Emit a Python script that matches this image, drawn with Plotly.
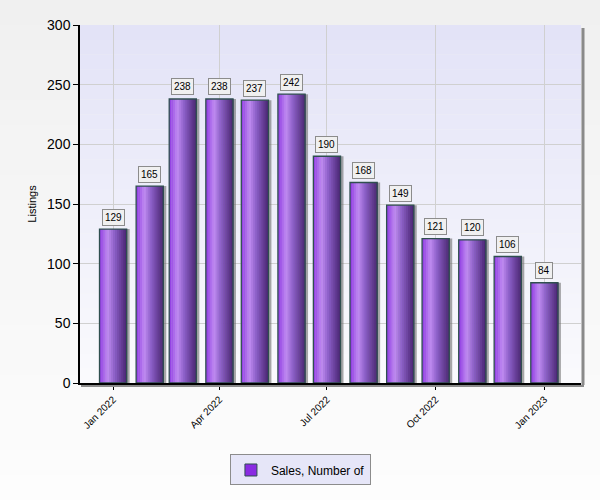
import plotly.graph_objects as go

months = ["2022-01-01", "2022-02-01", "2022-03-01", "2022-04-01", "2022-05-01",
          "2022-06-01", "2022-07-01", "2022-08-01", "2022-09-01", "2022-10-01",
          "2022-11-01", "2022-12-01", "2023-01-01"]
sales = [129, 165, 238, 238, 237, 242, 190, 168, 149, 121, 120, 106, 84]

tick_dates = ["2022-01-01", "2022-04-01", "2022-07-01", "2022-10-01", "2023-01-01"]
tick_text = ["Jan 2022", "Apr 2022", "Jul 2022", "Oct 2022", "Jan 2023"]

DAY = 86400000
bar_w = 23 * DAY


def mix(c1, c2, t):
	return "rgb(%d,%d,%d)" % tuple(round(a + (b - a) * t) for a, b in zip(c1, c2))


# left -> right shading of the cylinder bars
stops = [(0.0, (142, 58, 225)), (0.3, (192, 140, 242)), (0.55, (140, 95, 200)), (1.0, (72, 36, 112))]


def shade(t):
	for (t0, c0), (t1, c1) in zip(stops, stops[1:]):
		if t <= t1:
			return mix(c0, c1, (t - t0) / (t1 - t0))
	return mix(stops[-1][1], stops[-1][1], 0)


fig = go.Figure()

# drop shadow
fig.add_trace(go.Bar(x=months, y=sales, width=bar_w, offset=-bar_w / 2 + 2.5 * DAY,
					 marker=dict(color="rgba(110,110,110,0.6)", line=dict(width=0)),
					 showlegend=False, hoverinfo="skip"))

n = 14
for i in range(n):
	fig.add_trace(go.Bar(x=months, y=sales, width=bar_w / n + DAY * 0.4,
						 offset=-bar_w / 2 + i * bar_w / n,
						 marker=dict(color=shade((i + 0.5) / n), line=dict(width=0)),
						 showlegend=False, hoverinfo="skip"))

# outline
fig.add_trace(go.Bar(x=months, y=sales, width=bar_w, offset=-bar_w / 2,
					 marker=dict(color="rgba(0,0,0,0)", line=dict(color="#2f4f4f", width=1.3)),
					 showlegend=False, hoverinfo="x+y"))
# legend entry
fig.add_trace(go.Bar(x=[None], y=[None], name="Sales, Number of",
					 marker=dict(color="#8a2be2", line=dict(color="#2f4f4f", width=1))))

for m, v in zip(months, sales):
	fig.add_annotation(x=m, y=v, text=str(v), showarrow=False, yshift=12,
					   font=dict(family="Arial", size=10, color="black"),
					   bgcolor="#f0f0f0", bordercolor="#8c8c8c", borderwidth=1, borderpad=2)

# page gradient background
pw, ph = 501, 358
bands = 20
for i in range(bands):
	y0 = -117 / ph + (500 / ph) * i / bands
	fig.add_shape(type="rect", xref="paper", yref="paper", x0=-80 / pw, x1=1 + 19 / pw,
				  y0=y0, y1=y0 + 500 / ph / bands + 0.002, layer="below", line=dict(width=0),
				  fillcolor=mix((253, 253, 253), (240, 240, 240), (i + 0.5) / bands))

# plot-area gradient background
bands = 24
for i in range(bands):
	fig.add_shape(type="rect", xref="x domain", yref="y domain", x0=0, x1=1,
				  y0=i / bands, y1=(i + 1) / bands, layer="below", line=dict(width=0),
				  fillcolor=mix((250, 250, 253), (227, 227, 247), (i + 0.5) / bands))

# right/bottom shadow of the plot frame
fig.add_shape(type="line", xref="paper", yref="paper", x0=1 + 2 / pw, x1=1 + 2 / pw,
			  y0=-2 / ph, y1=1 - 3 / ph, line=dict(color="#8a8a8a", width=3))
fig.add_shape(type="line", xref="paper", yref="paper", x0=1 / pw, x1=1 + 3 / pw,
			  y0=-3 / ph, y1=-3 / ph, line=dict(color="#8a8a8a", width=2))

fig.update_layout(
	width=600, height=500,
	margin=dict(l=80, r=19, t=25, b=117),
	paper_bgcolor="#f4f4f4",
	plot_bgcolor="rgba(0,0,0,0)",
	barmode="overlay",
	font=dict(family="Arial", color="black"),
	legend=dict(orientation="h", x=0.44, y=-0.243, xanchor="center", yanchor="middle",
				bgcolor="#e6e6f8", bordercolor="#8c8c8c", borderwidth=1,
				font=dict(size=12)),
	xaxis=dict(type="date", range=["2021-12-04", "2023-02-01"],
			   tickvals=tick_dates, ticktext=tick_text, tickangle=-45,
			   tickfont=dict(size=10), ticks="outside", ticklen=5, tickcolor="black",
			   showgrid=True, gridcolor="#d0d0d0", showline=True, linecolor="black",
			   linewidth=1.5, layer="above traces"),
	yaxis=dict(range=[0, 300], dtick=50, ticks="outside", ticklen=5, tickcolor="black",
			   tickfont=dict(size=14), showgrid=True, gridcolor="#d0d0d0",
			   showline=True, linecolor="black", linewidth=1.5, zeroline=False,
			   title=dict(text="Listings", font=dict(size=11), standoff=8)),
)

fig.write_html("out.html", config={"displayModeBar": False},
			   post_script="document.body.style.margin='0';document.body.style.overflow='hidden';")
